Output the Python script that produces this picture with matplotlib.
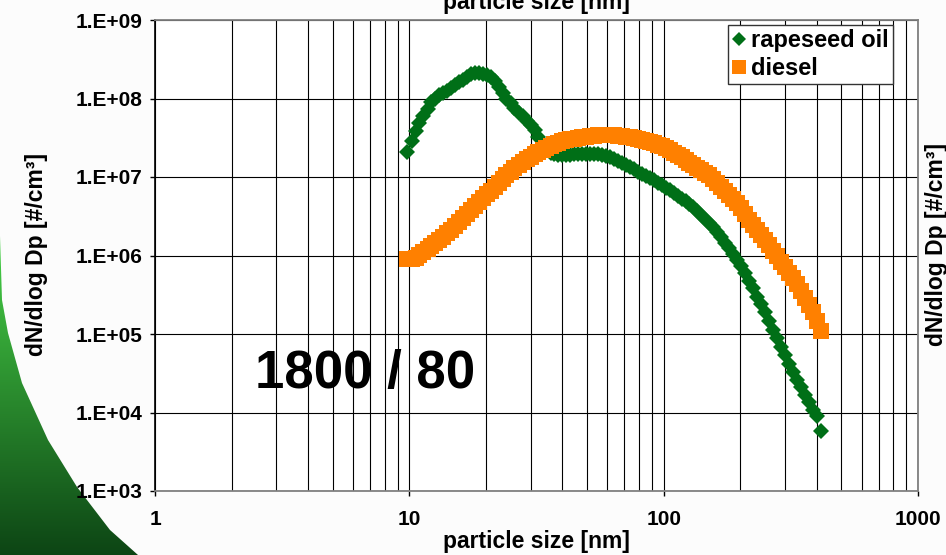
import numpy as np
import matplotlib
matplotlib.use("Agg")
import matplotlib.pyplot as plt
from matplotlib.patches import Polygon
from matplotlib.ticker import FixedLocator, FuncFormatter, NullFormatter

plt.rcParams['font.family'] = ['Liberation Sans', 'DejaVu Sans']
plt.rcParams['font.weight'] = 'bold'

# particle diameters [nm] (SMPS channels, 64 per decade)
diameter = [9.82, 10.2, 10.6, 10.9, 11.3, 11.8, 12.2, 12.6, 13.1, 13.6,
            14.1, 14.6, 15.1, 15.7, 16.3, 16.8, 17.5, 18.1, 18.8, 19.5,
            20.2, 20.9, 21.7, 22.5, 23.3, 24.1, 25.0, 25.9, 26.9, 27.9,
            28.9, 30.0, 31.1, 32.2, 33.4, 34.6, 35.9, 37.2, 38.5, 40.0,
            41.4, 42.9, 44.5, 46.1, 47.8, 49.6, 51.4, 53.3, 55.2, 57.3,
            59.4, 61.5, 63.8, 66.1, 68.5, 71.0, 73.7, 76.4, 79.1, 82.0,
            85.1, 88.2, 91.4, 94.7, 98.2, 101.8, 105.5, 109.4, 113.4, 117.6,
            121.9, 126.3, 131.0, 135.8, 140.7, 145.9, 151.2, 156.8, 162.5, 168.5,
            174.7, 181.1, 187.7, 194.6, 201.7, 209.1, 216.7, 224.7, 232.9, 241.4,
            250.3, 259.5, 269.0, 278.8, 289.0, 299.6, 310.6, 322.0, 333.8, 346.0,
            358.7, 371.8, 385.4, 399.5, 414.2]

rapeseed_oil = [2.1e7, 2.9e7, 3.8e7, 4.9e7, 6.0e7, 7.4e7, 8.9e7, 1.0e8, 1.10e8, 1.17e8,
                1.26e8, 1.36e8, 1.48e8, 1.60e8, 1.74e8, 1.90e8, 2.04e8, 2.09e8, 2.09e8, 2.07e8,
                2.00e8, 1.86e8, 1.66e8, 1.41e8, 1.17e8, 1.0e8, 8.7e7, 7.6e7, 6.6e7, 5.9e7,
                5.2e7, 4.6e7, 4.0e7, 3.2e7, 2.6e7, 2.3e7, 2.04e7, 1.95e7, 1.91e7, 1.91e7,
                1.91e7, 1.93e7, 1.95e7, 1.95e7, 1.95e7, 1.95e7, 1.95e7, 1.95e7, 1.95e7, 1.91e7,
                1.86e7, 1.78e7, 1.70e7, 1.60e7, 1.51e7, 1.43e7, 1.35e7, 1.26e7, 1.17e7, 1.10e7,
                1.02e7, 9.7e6, 9.1e6, 8.5e6, 7.9e6, 7.3e6, 6.8e6, 6.2e6, 5.8e6, 5.3e6,
                4.9e6, 4.5e6, 4.1e6, 3.7e6, 3.3e6, 2.95e6, 2.6e6, 2.3e6, 2.0e6, 1.7e6,
                1.45e6, 1.23e6, 1.05e6, 8.8e5, 7.4e5, 6.0e5, 4.8e5, 3.8e5, 3.0e5, 2.4e5,
                1.9e5, 1.46e5, 1.12e5, 8.8e4, 6.9e4, 5.4e4, 4.2e4, 3.3e4, 2.6e4, 2.1e4,
                1.66e4, 1.35e4, 1.07e4, 9.1e3, 5.8e3]

diesel = [9.1e5, 9.1e5, 9.3e5, 1.02e6, 1.12e6, 1.22e6, 1.32e6, 1.45e6, 1.58e6, 1.74e6,
          1.91e6, 2.14e6, 2.40e6, 2.7e6, 3.0e6, 3.4e6, 3.8e6, 4.3e6, 4.8e6, 5.4e6,
          6.0e6, 6.7e6, 7.4e6, 8.3e6, 9.3e6, 1.05e7, 1.17e7, 1.29e7, 1.41e7, 1.55e7,
          1.70e7, 1.82e7, 1.95e7, 2.09e7, 2.24e7, 2.37e7, 2.51e7, 2.63e7, 2.75e7, 2.85e7,
          2.95e7, 3.02e7, 3.09e7, 3.16e7, 3.24e7, 3.27e7, 3.31e7, 3.35e7, 3.39e7, 3.39e7,
          3.39e7, 3.39e7, 3.39e7, 3.35e7, 3.31e7, 3.27e7, 3.24e7, 3.16e7, 3.09e7, 2.99e7,
          2.88e7, 2.79e7, 2.69e7, 2.57e7, 2.45e7, 2.32e7, 2.19e7, 2.04e7, 1.91e7, 1.78e7,
          1.66e7, 1.53e7, 1.41e7, 1.32e7, 1.23e7, 1.14e7, 1.05e7, 9.4e6, 8.5e6, 7.5e6,
          6.6e6, 5.9e6, 5.2e6, 4.6e6, 4.0e6, 3.35e6, 2.8e6, 2.43e6, 2.1e6, 1.82e6,
          1.58e6, 1.35e6, 1.15e6, 9.8e5, 8.3e5, 7.1e5, 6.0e5, 5.1e5, 4.3e5, 3.5e5,
          2.9e5, 2.34e5, 1.9e5, 1.45e5, 1.10e5]

series_names = ['rapeseed oil', 'diesel']
x_ticks = [1, 10, 100, 1000]
y_ticks = [1e3, 1e4, 1e5, 1e6, 1e7, 1e8, 1e9]
annotation = '1800 / 80'
x_label = 'particle size [nm]'
y_label = 'dN/dlog Dp [#/cm³]'

W, H = 946, 555
fig = plt.figure(figsize=(W / 100, H / 100), dpi=100, facecolor='#fcfcfc')

# decorative green gradient wedge (slide background)
bg = fig.add_axes([0, 0, 1, 1], zorder=-10)
bg.set_xlim(0, W)
bg.set_ylim(H, 0)
bg.axis('off')
grad = np.linspace(0, 1, 256)[:, None]
c_top = np.array([0.28, 0.82, 0.28])
c_bot = np.array([0.05, 0.27, 0.08])
img = c_top[None, None, :] * (1 - grad[:, :, None]) + c_bot[None, None, :] * grad[:, :, None]
img = np.repeat(img, 2, axis=1)
im = bg.imshow(img, extent=[0, 145, H, 236], aspect='auto', interpolation='bilinear')
wedge = Polygon([(0, 236), (2, 300), (8, 333), (22, 383), (48, 440), (77, 487),
                 (110, 530), (138, 555), (0, 555)], closed=True, transform=bg.transData,
                facecolor='none', edgecolor='none')
bg.add_patch(wedge)
im.set_clip_path(wedge)

# main axes
L, R, T, B = 155, 918, 20, 491
ax = fig.add_axes([L / W, (H - B) / H, (R - L) / W, (B - T) / H])
ax.set_facecolor('white')
ax.set_xscale('log')
ax.set_yscale('log')
ax.set_xlim(1, 1000)
ax.set_ylim(1e3, 1e9)

ax.plot(diameter, rapeseed_oil, linestyle='none', marker='D', markersize=8.2,
        color='#006f17', markeredgewidth=0, label=series_names[0], zorder=3)
ax.plot(diameter, diesel, linestyle='none', marker='s', markersize=11,
        color='#ff8000', markeredgewidth=0, label=series_names[1], zorder=4)

ax.xaxis.set_major_locator(FixedLocator(x_ticks))
ax.xaxis.set_major_formatter(FuncFormatter(lambda v, p: '%d' % v))
minors = [m * d for d in [1, 10, 100] for m in range(2, 10)]
ax.xaxis.set_minor_locator(FixedLocator(minors))
ax.xaxis.set_minor_formatter(NullFormatter())
ax.yaxis.set_major_locator(FixedLocator(y_ticks))
ax.yaxis.set_major_formatter(FuncFormatter(lambda v, p: '1.E+%02d' % round(np.log10(v))))
ax.yaxis.set_minor_locator(FixedLocator([]))

ax.tick_params(which='major', direction='out', length=3.6, width=1, color='black',
               labelsize=15)
ax.tick_params(axis='y', which='major', pad=5.5)
ax.tick_params(axis='x', which='major', pad=10)
ax.tick_params(which='minor', length=0)
for lab in ax.get_xticklabels() + ax.get_yticklabels():
    lab.set_fontweight('bold')

ax.grid(True, which='major', color='black', linewidth=0.8)
ax.grid(True, which='minor', axis='x', color='black', linewidth=0.8)
ax.set_axisbelow(True)

ax.spines['left'].set_color('black')
ax.spines['left'].set_linewidth(1.2)
for s in ['top', 'right', 'bottom']:
    ax.spines[s].set_color('#808080')
    ax.spines[s].set_linewidth(1.3)

ax.text((255 - L) / (R - L), (B - 388) / (B - T), annotation, transform=ax.transAxes,
        fontsize=38, fontweight='bold', ha='left', va='baseline', zorder=0.3)

leg = ax.legend(loc='upper right', bbox_to_anchor=((893 - L) / (R - L), 1 - (25 - T) / (B - T)),
                borderaxespad=0, frameon=True, fancybox=False, markerscale=0.9,
                handlelength=0.55, handletextpad=0.25, borderpad=0.18, labelspacing=0.2,
                prop={'weight': 'bold', 'size': 17})
leg.get_frame().set_edgecolor('#333333')
leg.get_frame().set_linewidth(1.0)
leg.get_frame().set_alpha(1)

# axis labels
fig.text((L + R) / 2 / W, 1 - 548 / H, x_label, ha='center', va='baseline',
         fontsize=16.5, fontweight='bold')
fig.text((L + R) / 2 / W, 1 - 9 / H, x_label, ha='center', va='baseline',
         fontsize=16.5, fontweight='bold')
fig.text(37 / W, 1 - 254 / H, y_label, rotation=90, ha='center', va='center',
         fontsize=16.5, fontweight='bold')
fig.text(936 / W, 1 - 245 / H, y_label, rotation=90, ha='center', va='center',
         fontsize=16.5, fontweight='bold')

fig.savefig('out.png', dpi=100, facecolor=fig.get_facecolor())
